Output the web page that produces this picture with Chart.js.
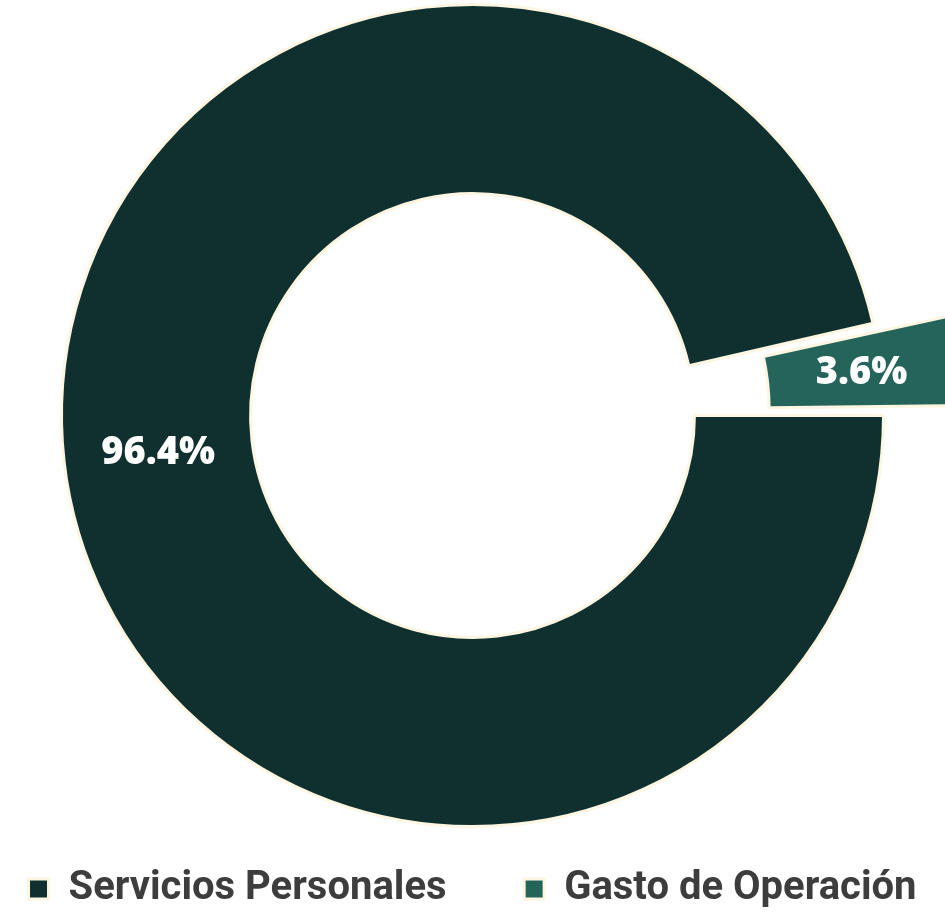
<!DOCTYPE html>
<html>
<head>
<meta charset="utf-8">
<script src="https://cdn.jsdelivr.net/npm/chart.js@4.4.1/dist/chart.umd.min.js"></script>
<style>
  html, body { margin: 0; padding: 0; background: #ffffff; overflow: hidden; }
  #wrap { width: 945px; height: 949px; position: relative; top: -30px; }
</style>
</head>
<body>
<div id="wrap"><canvas id="grafica"></canvas></div>
<script>
// datos
var categorias = ["Servicios Personales", "Gasto de Operación"];
var porcentajes = [96.4, 3.6];
var colores = ["#0f302f", "#25645a"];

// etiquetas blancas sobre cada rebanada
var etiquetas = {
  id: "etiquetas",
  afterDatasetsDraw: function(chart) {
    var ctx = chart.ctx;
    var meta = chart.getDatasetMeta(0);
    ctx.save();
    ctx.fillStyle = "#ffffff";
    ctx.font = "800 38px 'Open Sans'";
    ctx.textAlign = "center";
    ctx.textBaseline = "middle";
    meta.data.forEach(function(arc, i) {
      var p = arc.getProps(["x", "y", "startAngle", "endAngle", "innerRadius", "outerRadius", "circumference"], true);
      var mid = (p.startAngle + p.endAngle) / 2;
      var off = (arc.options.offset || 0) / 4;
      var fix = 1 - Math.sin(Math.min(Math.PI, p.circumference));
      var r = (p.innerRadius + p.outerRadius) / 2 + off * (1 + fix);
      ctx.fillText(porcentajes[i].toFixed(1) + "%", p.x + Math.cos(mid) * r, p.y + Math.sin(mid) * r + 2);
    });
    ctx.restore();
  }
};

var ctx = document.getElementById("grafica");
var chart = new Chart(ctx, {
  type: "doughnut",
  data: {
    labels: categorias,
    datasets: [{
      data: porcentajes,
      backgroundColor: colores,
      borderColor: "#fdf6e2",
      borderWidth: 3,
      offset: [0, 169],
      clip: false
    }]
  },
  options: {
    responsive: true,
    maintainAspectRatio: false,
    animation: false,
    rotation: 90,
    cutout: "54%",
    radius: 411,
    plugins: {
      tooltip: { enabled: false },
      legend: {
        position: "bottom",
        labels: {
          boxWidth: 20,
          boxHeight: 20,
          padding: 8,
          color: "#3d3d3d",
          font: { family: "Roboto", size: 40, weight: "700" },
          generateLabels: function(chart) {
            var items = Chart.overrides.doughnut.plugins.legend.labels.generateLabels(chart);
            // espacio extra entre las dos entradas
            items[0].text = items[0].text + "\u00a0\u00a0\u00a0\u00a0\u00a0\u00a0\u00a0";
            return items;
          }
        }
      }
    }
  },
  plugins: [etiquetas]
});
</script>
</body>
</html>
